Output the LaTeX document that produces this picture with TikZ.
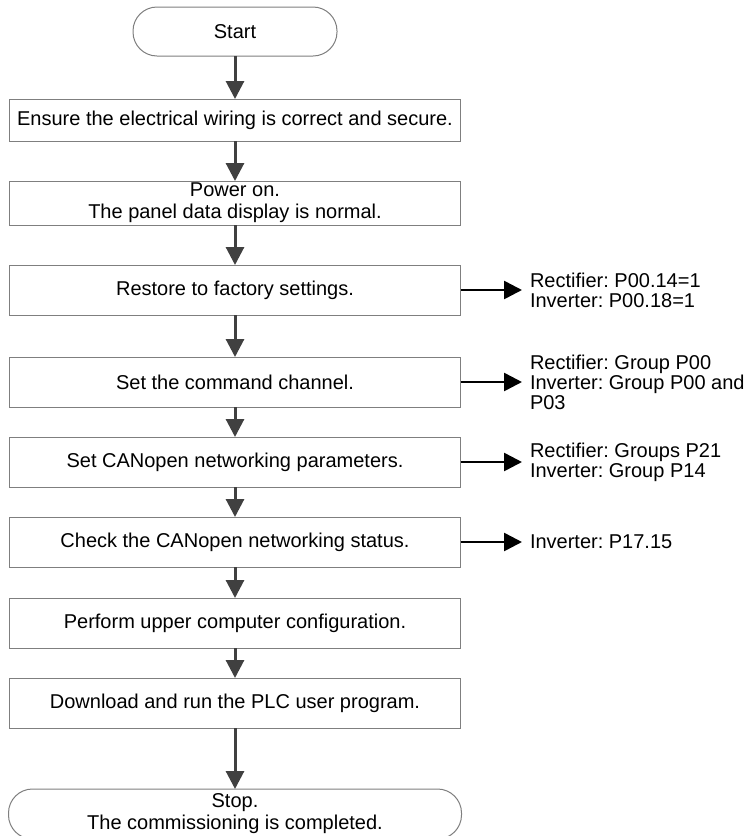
\documentclass[tikz,border=0pt]{standalone}
\usepackage{fontspec}
\setmainfont{Liberation Sans}
\usepackage{tikz}
\usetikzlibrary{arrows.meta,positioning}
\frenchspacing
\definecolor{Frame}{HTML}{7F7F7F}
\definecolor{Flow}{HTML}{404040}
\tikzset{
  box/.style={draw=Frame, line width=0.5pt, fill=white, align=center,
              minimum width=225.5pt, minimum height=25pt, inner ysep=0pt, outer sep=0pt,
              font=\fontsize{10}{11}\selectfont},
  term/.style={box, rounded corners=12pt},
  arrow/.style={-{Triangle[length=9pt,width=9pt]}, line width=1.5pt, draw=Flow},
  arrowside/.style={arrow, draw=black, line width=1.3pt, shorten >=3pt},
  tag/.style={align=left, inner sep=1pt, outer sep=0pt, font=\fontsize{10}{10}\selectfont},
}

\begin{document}
\begin{tikzpicture}
  \useasboundingbox (0,0) rectangle (373pt,-418pt);
  \node[term, minimum width=102pt, minimum height=24.5pt] (start) at (117.5pt,-15.75pt) {Start};
  \node[box, below=21.5pt of start, minimum height=21pt] (wiring) {Ensure the electrical wiring is correct and secure.};
  \node[box, below=20pt of wiring, minimum height=22pt] (power) {Power on.\\The panel data display is normal.};
  \node[box, below=20pt of power] (factory) {Restore to factory settings.};
  \node[box, below=21pt of factory] (channel) {Set the command channel.};
  \node[box, below=15pt of channel] (canpar) {Set CANopen networking parameters.};
  \node[box, below=15pt of canpar] (canstat) {Check the CANopen networking status.};
  \node[box, below=15.5pt of canstat] (upper) {Perform upper computer configuration.};
  \node[box, below=15pt of upper] (plc) {Download and run the PLC user program.};
  \node[term, below=30.5pt of plc, minimum width=226.5pt] (stop) {Stop.\\The commissioning is completed.};
  \draw[arrow] (start)--(wiring);
  \draw[arrow] (wiring)--(power);
  \draw[arrow] (power)--(factory);
  \draw[arrow] (factory)--(channel);
  \draw[arrow] (channel)--(canpar);
  \draw[arrow] (canpar)--(canstat);
  \draw[arrow] (canstat)--(upper);
  \draw[arrow] (upper)--(plc);
  \draw[arrow] (plc)--(stop);
  \node[tag, right=33.75pt of factory] (factoryset) {Rectifier: P00.14=1\\Inverter: P00.18=1};
  \node[tag, right=33.75pt of channel] (channelset) {Rectifier: Group P00\\Inverter: Group P00 and\\P03};
  \node[tag, right=33.75pt of canpar] (canparset) {Rectifier: Groups P21\\Inverter: Group P14};
  \node[tag, right=33.75pt of canstat] (canstatset) {Inverter: P17.15};
  \draw[arrowside] (factory)--(factoryset);
  \draw[arrowside] (channel)--(channelset);
  \draw[arrowside] (canpar)--(canparset);
  \draw[arrowside] (canstat)--(canstatset);
\end{tikzpicture}
\end{document}
